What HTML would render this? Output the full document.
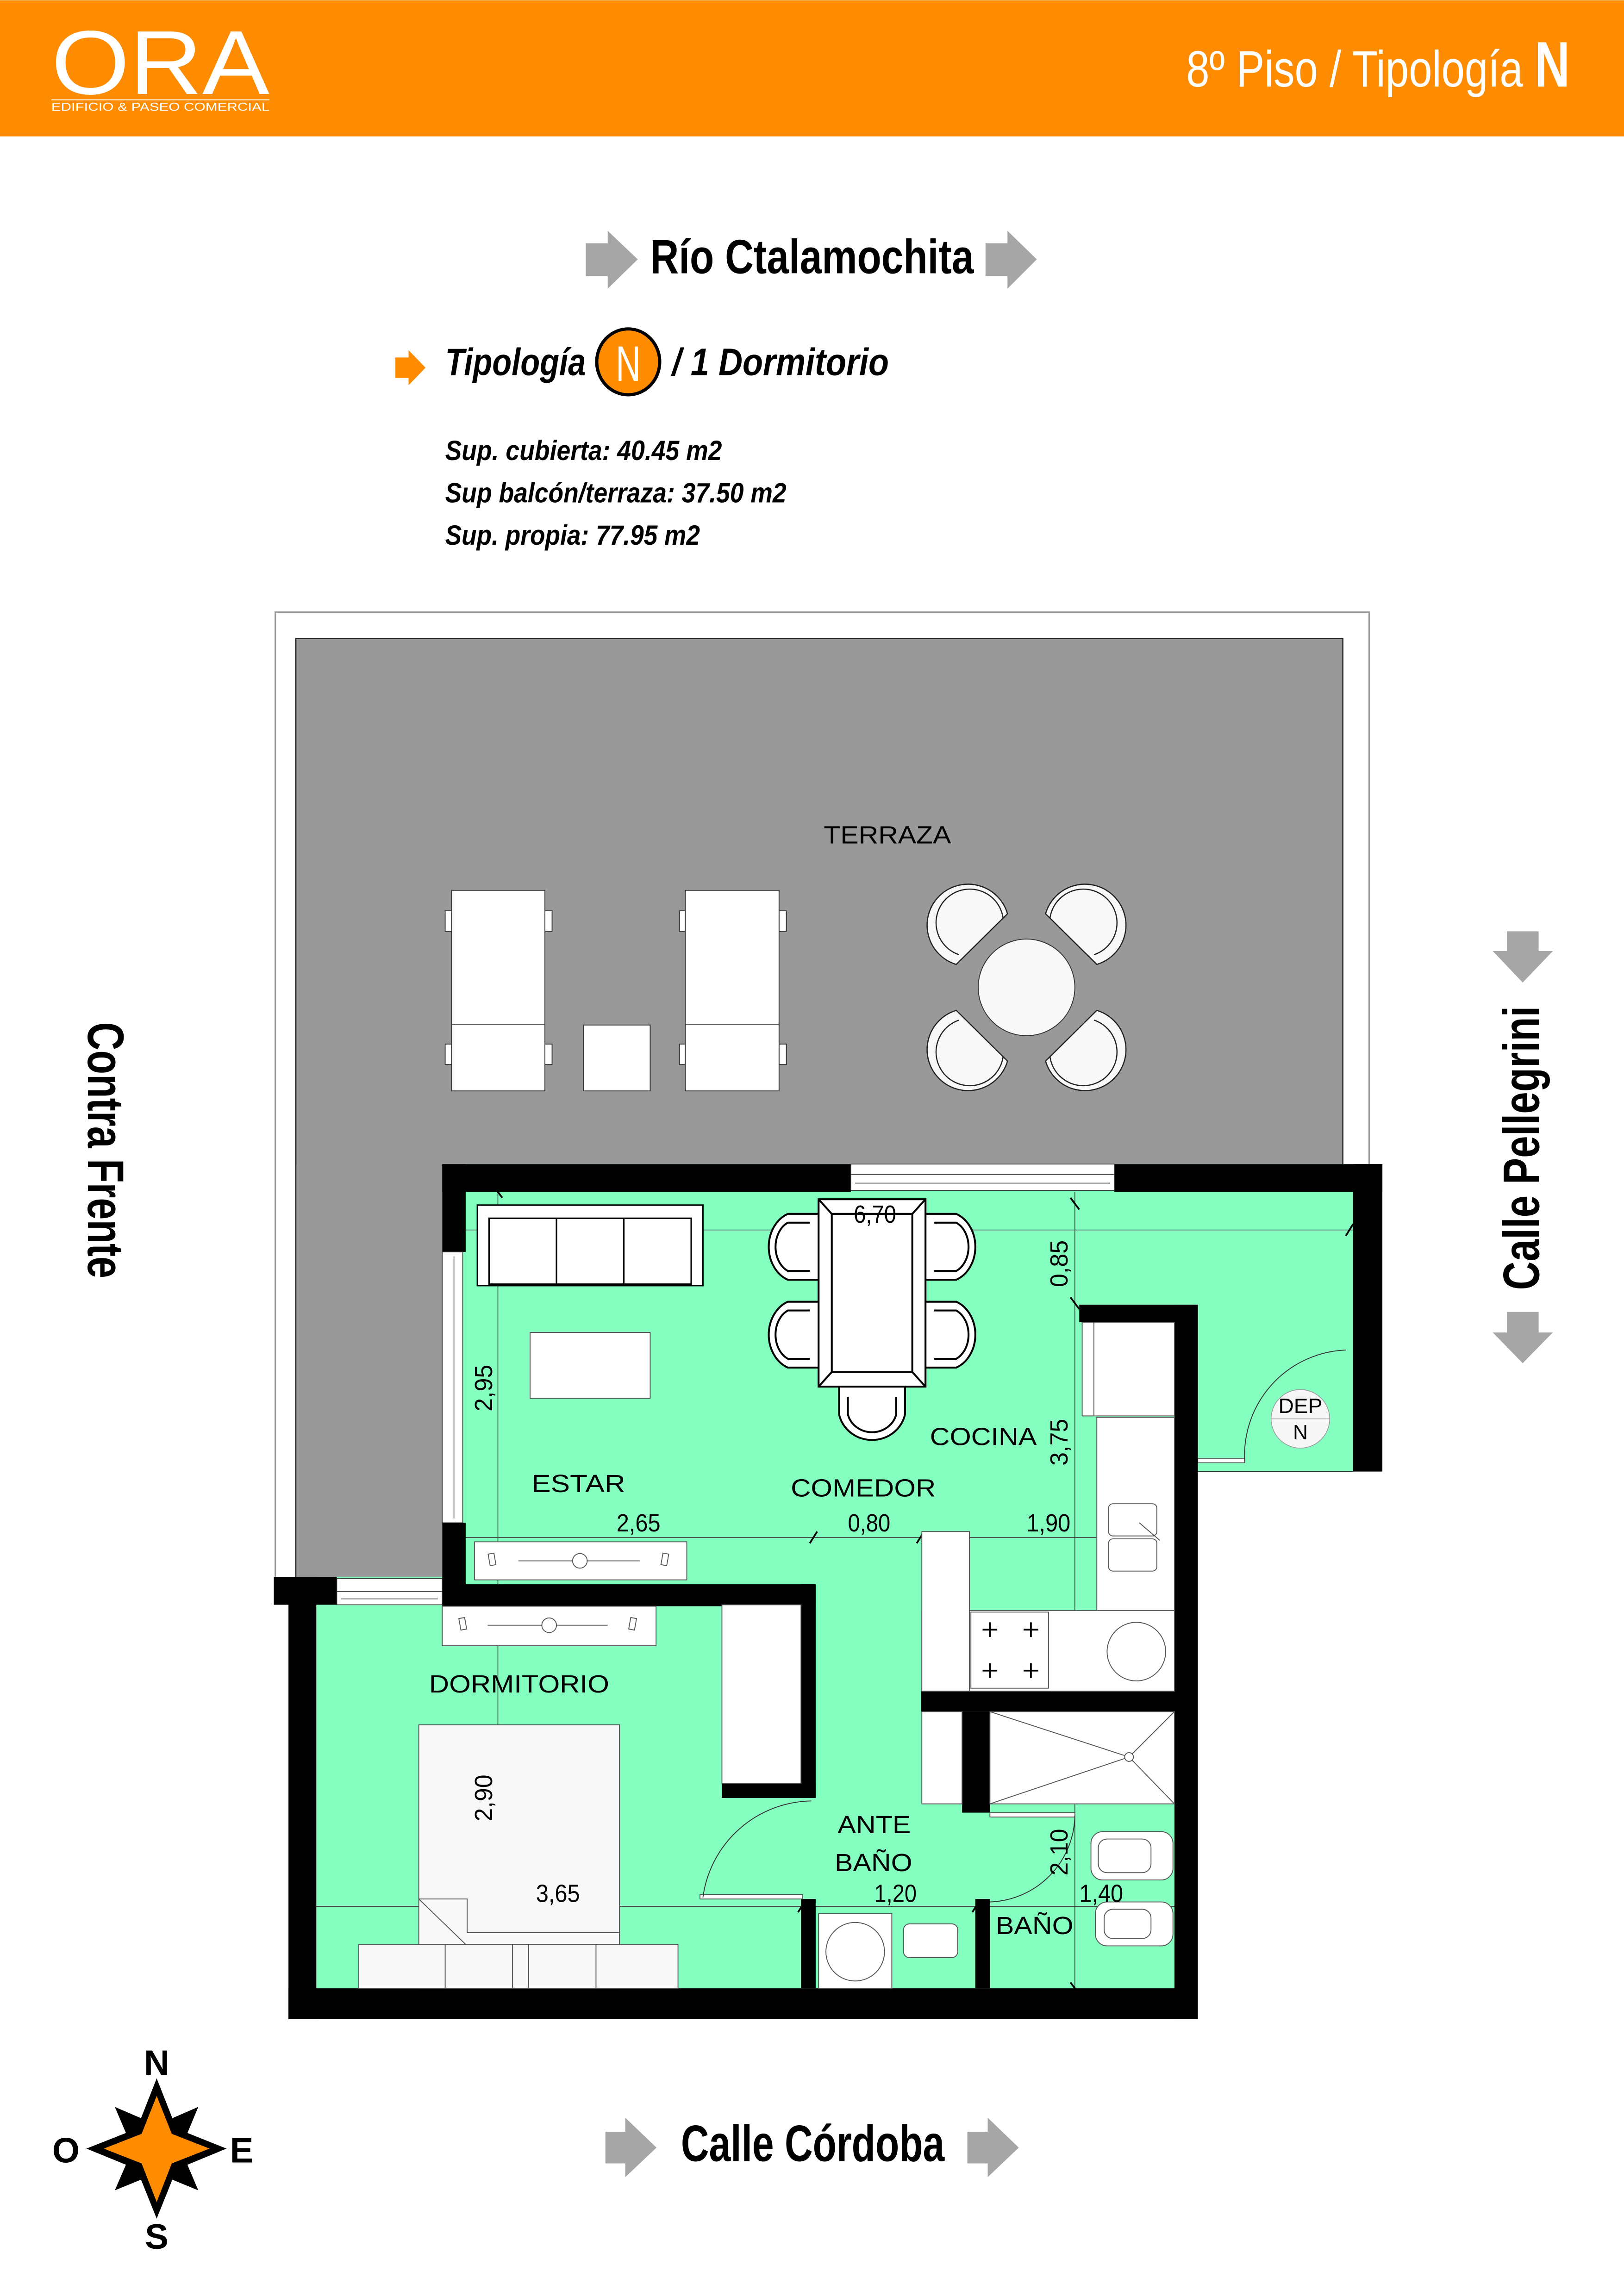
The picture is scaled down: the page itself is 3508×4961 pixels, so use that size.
<!DOCTYPE html>
<html><head><meta charset="utf-8"><style>
html,body{margin:0;padding:0;background:#fff;}
svg{display:block;}
text{font-family:"Liberation Sans",sans-serif;}
</style></head><body>
<svg width="3508" height="4961" viewBox="0 0 1109 1568" xmlns="http://www.w3.org/2000/svg">
<rect x="0" y="0" width="1109" height="1568" fill="#fff"/>
<!-- header -->
<rect x="0" y="0" width="1109" height="93" fill="#FF8C00"/>
<text x="35" y="64" font-size="62" fill="#fff" textLength="149" lengthAdjust="spacingAndGlyphs">ORA</text>
<line x1="35" y1="68" x2="184" y2="68" stroke="#fff" stroke-width="0.6"/>
<text x="35" y="75.5" font-size="8" fill="#fff" font-family="Liberation Serif,serif" textLength="149" lengthAdjust="spacingAndGlyphs">EDIFICIO &amp; PASEO COMERCIAL</text>
<text x="810" y="59" font-size="35" fill="#fff" textLength="230" lengthAdjust="spacingAndGlyphs">8º Piso / Tipología</text>
<text x="1048" y="59" font-size="44" font-weight="bold" fill="#fff" textLength="24" lengthAdjust="spacingAndGlyphs">N</text>

<!-- Rio -->
<polygon points="400,166 415,166 415,157.5 435.5,177 415,197 415,188.5 400,188.5" fill="#A6A6A6"/>
<polygon points="673,166 688,166 688,157.5 708,177 688,197 688,188.5 673,188.5" fill="#A6A6A6"/>
<text x="444" y="186.5" font-size="33" font-weight="bold" textLength="221" lengthAdjust="spacingAndGlyphs">Río Ctalamochita</text>

<!-- tipologia -->
<polygon points="270,244 279,244 279,239 290.6,251 279,263 279,258 270,258" fill="#FF8C00"/>
<text x="304" y="256" font-size="26" font-weight="bold" font-style="italic" textLength="96" lengthAdjust="spacingAndGlyphs">Tipología</text>
<ellipse cx="429" cy="247" rx="21.5" ry="22.5" fill="#FF8C00" stroke="#000" stroke-width="2.2"/>
<text x="429" y="260" font-size="34" fill="#fff" text-anchor="middle" textLength="17" lengthAdjust="spacingAndGlyphs">N</text>
<text x="459" y="256" font-size="26" font-weight="bold" font-style="italic" textLength="148" lengthAdjust="spacingAndGlyphs">/ 1 Dormitorio</text>
<text x="304" y="314" font-size="19" font-weight="bold" font-style="italic" textLength="189" lengthAdjust="spacingAndGlyphs">Sup. cubierta: 40.45 m2</text>
<text x="304" y="343" font-size="19" font-weight="bold" font-style="italic" textLength="233" lengthAdjust="spacingAndGlyphs">Sup balcón/terraza: 37.50 m2</text>
<text x="304" y="372" font-size="19" font-weight="bold" font-style="italic" textLength="174" lengthAdjust="spacingAndGlyphs">Sup. propia: 77.95 m2</text>

<!-- terrace -->
<polyline points="188,1078 188,418 935,418 935,796" fill="none" stroke="#999" stroke-width="1"/>
<rect x="202" y="436" width="715" height="360" fill="#999" stroke="#222" stroke-width="0.8"/>
<rect x="202" y="795" width="100" height="283" fill="#999"/>
<line x1="202" y1="436" x2="202" y2="1078" stroke="#222" stroke-width="0.8"/>
<text x="562.5" y="576" font-size="17" textLength="87" lengthAdjust="spacingAndGlyphs">TERRAZA</text>
<g fill="#fff" stroke="#333" stroke-width="0.6">
<rect x="304" y="622" width="5" height="14"/><rect x="372" y="622" width="5" height="14"/>
<rect x="304" y="713" width="5" height="14"/><rect x="372" y="713" width="5" height="14"/>
<rect x="464" y="622" width="5" height="14"/><rect x="532" y="622" width="5" height="14"/>
<rect x="464" y="713" width="5" height="14"/><rect x="532" y="713" width="5" height="14"/>
<rect x="308.4" y="608" width="63.7" height="137"/><line x1="308.4" y1="699.4" x2="372" y2="699.4"/>
<rect x="468" y="608" width="64" height="137"/><line x1="468" y1="699.4" x2="532" y2="699.4"/>
<rect x="398.4" y="700" width="45.6" height="45"/>
<circle cx="701" cy="674.3" r="33" fill="#f8f8f8"/>
</g>
<g fill="#f8f8f8" stroke="#222" stroke-width="0.8">
<g id="ch"><path d="M653,658.6 A28,28 0 1 1 688,624 Z"/><path d="M655,652 A23,23 0 1 1 685,627" fill="none"/></g>
<use href="#ch" transform="translate(1402,0) scale(-1,1)"/>
<use href="#ch" transform="translate(0,1348.6) scale(1,-1)"/>
<use href="#ch" transform="translate(1402,1348.6) scale(-1,-1)"/>
</g>

<!-- apartment green -->
<polygon points="302,795 944,795 944,1005 818,1005 818,1379 197,1379 197,1077 302,1077" fill="#84FFC0"/>

<!-- dimension lines -->
<g stroke="#333" stroke-width="0.5" fill="none">
<line x1="317" y1="840" x2="924" y2="840"/>
<line x1="317" y1="1050" x2="818" y2="1050"/>
<line x1="215" y1="1302" x2="818" y2="1302"/>
<line x1="340" y1="814" x2="340" y2="1358"/>
<line x1="734" y1="814" x2="734" y2="1358"/>
</g>
<g stroke="#000" stroke-width="1.2">
<line x1="731" y1="818" x2="737" y2="826"/><line x1="731" y1="886" x2="737" y2="894"/>
<line x1="553" y1="1054" x2="558" y2="1046"/><line x1="626" y1="1054" x2="631" y2="1046"/>
<line x1="731" y1="1153" x2="737" y2="1161"/><line x1="731" y1="1354" x2="737" y2="1362"/>
<line x1="545" y1="1306" x2="550" y2="1298"/><line x1="664" y1="1306" x2="669" y2="1298"/>
<line x1="337" y1="1354" x2="343" y2="1362"/><line x1="337" y1="1098" x2="343" y2="1106"/>
<line x1="337" y1="810" x2="343" y2="818"/><line x1="919" y1="844" x2="924" y2="836"/>
</g>

<!-- walls -->
<g fill="#000">
<rect x="302" y="795" width="279" height="19"/>
<rect x="761" y="795" width="183" height="19"/>
<rect x="924" y="795" width="20" height="210"/>
<rect x="302" y="795" width="16" height="60"/>
<rect x="302" y="1040" width="16" height="57"/>
<rect x="302" y="1082" width="255" height="15"/>
<rect x="547" y="1082" width="10" height="146"/>
<rect x="493" y="1218" width="64" height="10"/>
<rect x="187" y="1077" width="43" height="19"/>
<rect x="197" y="1077" width="19" height="302"/>
<rect x="197" y="1358" width="621" height="21"/>
<rect x="802" y="891" width="16" height="488"/>
<rect x="737" y="891" width="81" height="12"/>
<rect x="629" y="1155" width="189" height="14"/>
<rect x="657" y="1169" width="19" height="69"/>
<rect x="547" y="1297" width="10" height="61"/>
<rect x="666" y="1297" width="10" height="61"/>
</g>
<!-- windows -->
<g fill="#fff" stroke="#333" stroke-width="0.5">
<rect x="581" y="795" width="180" height="18"/>
<line x1="581" y1="802" x2="761" y2="802"/><line x1="584" y1="808" x2="758" y2="808"/>
<rect x="302" y="855" width="14" height="185"/>
<line x1="310" y1="858" x2="310" y2="1037"/>
<rect x="230" y="1078" width="72" height="18"/>
<line x1="230" y1="1087" x2="302" y2="1087"/><line x1="233" y1="1092" x2="299" y2="1092"/>
</g>

<!-- DEP -->
<line x1="818" y1="1005" x2="924" y2="1005" stroke="#333" stroke-width="0.6"/>
<rect x="818" y="996" width="32" height="3" fill="#fff" stroke="#333" stroke-width="0.4"/>
<path d="M850,998 A72,72 0 0 1 919,922" fill="none" stroke="#333" stroke-width="0.6"/>
<circle cx="888" cy="969" r="20" fill="#f6f6f6" stroke="#999" stroke-width="0.5"/>
<line x1="868" y1="969" x2="908" y2="969" stroke="#999" stroke-width="0.4"/>
<text x="888" y="965" font-size="14" text-anchor="middle" textLength="30" lengthAdjust="spacingAndGlyphs">DEP</text>
<text x="888" y="983" font-size="14" text-anchor="middle">N</text>

<!-- estar furniture -->
<g fill="#fff" stroke="#000" stroke-width="1">
<rect x="326" y="823" width="154" height="55"/>
<rect x="334" y="832" width="138" height="45"/>
<line x1="380" y1="832" x2="380" y2="877"/><line x1="426" y1="832" x2="426" y2="877"/>
</g>
<rect x="362" y="910" width="82" height="45" fill="#fff" stroke="#555" stroke-width="0.6"/>
<g fill="#fff" stroke="#555" stroke-width="0.6">
<rect x="324" y="1053" width="145" height="26"/>
<line x1="354" y1="1066" x2="437" y2="1066"/><circle cx="396" cy="1066" r="5"/>
<rect x="334" y="1061" width="4" height="8" transform="rotate(-10 336 1065)"/>
<rect x="452" y="1061" width="4" height="8" transform="rotate(10 454 1065)"/>
<rect x="302" y="1097" width="146" height="27"/>
<line x1="333" y1="1110" x2="415" y2="1110"/><circle cx="375" cy="1110" r="5"/>
<rect x="314" y="1105" width="4" height="8" transform="rotate(-10 316 1109)"/>
<rect x="430" y="1105" width="4" height="8" transform="rotate(10 432 1109)"/>
</g>
<!-- dining -->
<g fill="#fff" stroke="#000" stroke-width="1.3">
<g id="lc"><path d="M559,829 L538,829 A20,24 0 0 0 538,874 L559,874"/><path d="M553,835 L538,835 A14,18 0 0 0 538,868 L553,868" fill="none"/></g>
<use href="#lc" transform="translate(0,60)"/>
<use href="#lc" transform="translate(1191,0) scale(-1,1)"/>
<use href="#lc" transform="translate(1191,60) scale(-1,1)"/>
<path d="M573,947 L573,966 A23,22 0 0 0 618,966 L618,947"/>
<path d="M579,954 L579,966 A17,16 0 0 0 612,966 L612,954" fill="none"/>
<rect x="559" y="819" width="73" height="128"/>
<rect x="568" y="829" width="55" height="108"/>
<line x1="559" y1="819" x2="568" y2="829"/><line x1="632" y1="819" x2="623" y2="829"/>
<line x1="559" y1="947" x2="568" y2="937"/><line x1="632" y1="947" x2="623" y2="937"/>
</g>
<!-- kitchen -->
<g fill="#fff" stroke="#555" stroke-width="0.6">
<rect x="739" y="903" width="63" height="64"/><line x1="747" y1="903" x2="747" y2="967"/>
<rect x="749" y="968" width="53" height="187"/>
<rect x="629.5" y="1100" width="172.5" height="55"/>
<rect x="629.5" y="1046" width="32.5" height="109"/>
<rect x="663" y="1101" width="53" height="52"/>
<rect x="757" y="1027" width="33" height="22" rx="3"/><rect x="757" y="1051" width="33" height="22" rx="3"/>
<line x1="778" y1="1040" x2="792" y2="1052"/>
<circle cx="776" cy="1128" r="20"/>
<rect x="629.5" y="1169" width="27.5" height="63"/>
</g>
<g stroke="#000" stroke-width="1.2">
<line x1="671" y1="1113" x2="681" y2="1113"/><line x1="676" y1="1108" x2="676" y2="1118"/>
<line x1="699" y1="1113" x2="709" y2="1113"/><line x1="704" y1="1108" x2="704" y2="1118"/>
<line x1="671" y1="1141" x2="681" y2="1141"/><line x1="676" y1="1136" x2="676" y2="1146"/>
<line x1="699" y1="1141" x2="709" y2="1141"/><line x1="704" y1="1136" x2="704" y2="1146"/>
</g>
<!-- bath -->
<g fill="#fff" stroke="#555" stroke-width="0.6">
<rect x="676" y="1169" width="126" height="63"/>
<line x1="676" y1="1169" x2="771" y2="1200"/><line x1="676" y1="1232" x2="771" y2="1200"/>
<line x1="802" y1="1169" x2="771" y2="1200"/><line x1="802" y1="1232" x2="771" y2="1200"/>
<circle cx="771" cy="1200" r="3"/>
<rect x="676" y="1238" width="58" height="3"/>
<rect x="745" y="1251" width="56" height="33" rx="8"/>
<rect x="750" y="1256" width="36" height="23" rx="6"/>
<rect x="748" y="1299" width="53" height="30" rx="8"/>
<rect x="754" y="1304" width="32" height="20" rx="6"/>
<rect x="559" y="1307" width="50" height="51"/><circle cx="584" cy="1333" r="20"/>
<rect x="617" y="1314" width="37" height="23" rx="4"/>
<rect x="478" y="1294" width="70" height="3"/>
<rect x="493" y="1096" width="54" height="122"/>
</g>
<path d="M480,1296 A76,76 0 0 1 554,1230" fill="none" stroke="#333" stroke-width="0.6"/>
<path d="M676,1299 A60,60 0 0 0 734,1240" fill="none" stroke="#333" stroke-width="0.6"/>
<!-- bed -->
<g fill="#f8f8f8" stroke="#555" stroke-width="0.6">
<rect x="286" y="1178" width="137" height="180"/>
<rect x="245" y="1328" width="218" height="30"/>
<rect x="304" y="1328" width="46" height="30"/><rect x="361" y="1328" width="46" height="30"/>
<polyline points="286,1297 319,1297 319,1320 423,1320"/>
<line x1="286" y1="1297" x2="318" y2="1328"/>
</g>

<!-- labels -->
<g font-size="17">
<text x="363" y="1019" textLength="64" lengthAdjust="spacingAndGlyphs">ESTAR</text>
<text x="540" y="1022" textLength="99" lengthAdjust="spacingAndGlyphs">COMEDOR</text>
<text x="635" y="987" textLength="73" lengthAdjust="spacingAndGlyphs">COCINA</text>
<text x="293" y="1156" textLength="123" lengthAdjust="spacingAndGlyphs">DORMITORIO</text>
<text x="572" y="1252" textLength="50" lengthAdjust="spacingAndGlyphs">ANTE</text>
<text x="570" y="1278" textLength="53" lengthAdjust="spacingAndGlyphs">BAÑO</text>
<text x="680" y="1321" textLength="53" lengthAdjust="spacingAndGlyphs">BAÑO</text>
</g>
<g font-size="17">
<text x="583" y="835" textLength="29" lengthAdjust="spacingAndGlyphs">6,70</text>
<text x="421" y="1046" textLength="30" lengthAdjust="spacingAndGlyphs">2,65</text>
<text x="579" y="1046" textLength="29" lengthAdjust="spacingAndGlyphs">0,80</text>
<text x="701" y="1046" textLength="30" lengthAdjust="spacingAndGlyphs">1,90</text>
<text x="366" y="1299" textLength="30" lengthAdjust="spacingAndGlyphs">3,65</text>
<text x="597" y="1299" textLength="29" lengthAdjust="spacingAndGlyphs">1,20</text>
<text x="737" y="1299" textLength="30" lengthAdjust="spacingAndGlyphs">1,40</text>
<text transform="translate(729,879) rotate(-90)" textLength="32" lengthAdjust="spacingAndGlyphs">0,85</text>
<text transform="translate(729,1001) rotate(-90)" textLength="32" lengthAdjust="spacingAndGlyphs">3,75</text>
<text transform="translate(336,964) rotate(-90)" textLength="32" lengthAdjust="spacingAndGlyphs">2,95</text>
<text transform="translate(336,1244) rotate(-90)" textLength="32" lengthAdjust="spacingAndGlyphs">2,90</text>
<text transform="translate(729,1281) rotate(-90)" textLength="32" lengthAdjust="spacingAndGlyphs">2,10</text>
</g>

<!-- side labels -->
<text transform="translate(60,698) rotate(90)" font-size="35" font-weight="bold" textLength="175" lengthAdjust="spacingAndGlyphs">Contra Frente</text>
<polygon points="1029,636 1050.7,636 1050.7,649.5 1060.4,649.5 1039.8,671 1019.4,649.5 1029,649.5" fill="#A6A6A6"/>
<polygon points="1029,896 1050.7,896 1050.7,910 1060.4,910 1039.8,931 1019.4,910 1029,910" fill="#A6A6A6"/>
<text transform="translate(1051,881) rotate(-90)" font-size="35" font-weight="bold" textLength="194" lengthAdjust="spacingAndGlyphs">Calle Pellegrini</text>

<!-- bottom -->
<polygon points="413.4,1456 427,1456 427,1446.4 448.3,1466.8 427,1487 427,1477.6 413.4,1477.6" fill="#A6A6A6"/>
<polygon points="660.6,1456 674.5,1456 674.5,1446.4 695.7,1466.8 674.5,1487 674.5,1477.6 660.6,1477.6" fill="#A6A6A6"/>
<text x="465" y="1476" font-size="35" font-weight="bold" textLength="180" lengthAdjust="spacingAndGlyphs">Calle Córdoba</text>

<!-- compass -->
<polygon points="107,1419.5 117.7,1446.7 135.4,1439 128,1456.8 154.7,1467.5 128,1478.5 135.4,1496 117.7,1488.7 107,1515.3 96.3,1488.7 78.4,1496 86,1478.5 59,1467.5 86,1456.8 78.4,1439 96.3,1446.7" fill="#000"/>
<polygon points="107,1431.5 117.3,1457.4 143.1,1467.5 117.3,1477.6 107,1504 96.7,1477.6 70.9,1467.5 96.7,1457.4" fill="#FF8C00"/>
<g font-size="24" font-weight="bold" text-anchor="middle">
<text x="107" y="1417">N</text>
<text x="45" y="1477">O</text>
<text x="165" y="1477">E</text>
<text x="107" y="1536">S</text>
</g>
</svg>
</body></html>
